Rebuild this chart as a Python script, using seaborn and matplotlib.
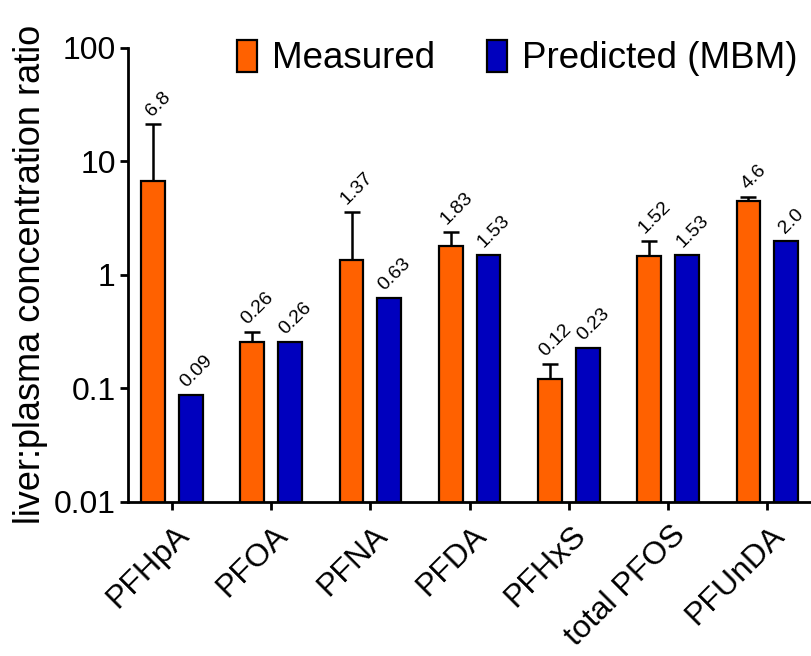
import numpy as np
import pandas as pd
import matplotlib
matplotlib.use("Agg")
import matplotlib.pyplot as plt
import matplotlib.transforms as mtransforms
import seaborn as sns

categories = ["PFHpA", "PFOA", "PFNA", "PFDA", "PFHxS", "total PFOS", "PFUnDA"]
measured = [6.7, 0.255, 1.36, 1.79, 0.121, 1.47, 4.45]
measured_err = [14.5, 0.06, 2.2, 0.6, 0.042, 0.52, 0.42]
predicted = [0.087, 0.255, 0.63, 1.50, 0.225, 1.50, 1.97]
measured_labels = ["6.8", "0.26", "1.37", "1.83", "0.12", "1.52", "4.6"]
predicted_labels = ["0.09", "0.26", "0.63", "1.53", "0.23", "1.53", "2.0"]
series = ["Measured", "Predicted (MBM)"]
colors = ["#FF6100", "#0000BE"]
ytick_vals = [0.01, 0.1, 1, 10, 100]
ytick_labels = ["0.01", "0.1", "1", "10", "100"]

df = pd.DataFrame({
    "compound": categories * 2,
    "series": [series[0]] * len(categories) + [series[1]] * len(categories),
    "value": measured + predicted,
})

sns.set_theme(style="ticks")
plt.rcParams["font.family"] = ["Liberation Sans", "DejaVu Sans"]
plt.rcParams["text.color"] = "black"
plt.rcParams["axes.labelcolor"] = "black"
plt.rcParams["xtick.color"] = "black"
plt.rcParams["ytick.color"] = "black"

fig = plt.figure(figsize=(8.12, 6.56), dpi=100)
ax = fig.add_axes([0.158, 0.235, 0.842, 0.692])

sns.barplot(data=df, x="compound", y="value", hue="series", order=categories,
            hue_order=series, palette=colors, saturation=1, width=0.76, gap=0.37,
            edgecolor="black", linewidth=1.6, errorbar=None, ax=ax, zorder=2)

ax.set_yscale("log")
ax.set_ylim(0.01, 100)
ax.set_xlim(-0.44, 6.45)
ax.set_yticks(ytick_vals)
ax.set_yticklabels(ytick_labels)
ax.yaxis.set_minor_locator(matplotlib.ticker.NullLocator())

bars = [p for p in ax.patches if p.get_height() > 0][: 2 * len(categories)]
meas_bars = bars[:len(categories)]
pred_bars = bars[len(categories):]

for b, e, lab in zip(meas_bars, measured_err, measured_labels):
    xc = b.get_x() + b.get_width() / 2
    top = b.get_height()
    ax.errorbar([xc], [top], yerr=[[0], [e]], fmt="none", ecolor="black",
                elinewidth=1.8, capsize=6, capthick=1.8, zorder=1)
    ax.annotate(lab, (xc, top + e), xytext=(4, 3), textcoords="offset points",
                rotation=45, ha="center", va="bottom", fontsize=14)

for b, lab in zip(pred_bars, predicted_labels):
    xc = b.get_x() + b.get_width() / 2
    top = b.get_height()
    ax.annotate(lab, (xc, top), xytext=(4, 3), textcoords="offset points",
                rotation=45, ha="center", va="bottom", fontsize=14)

ax.set_xlabel("")
ax.set_ylabel("liver:plasma concentration ratio", fontsize=26, labelpad=4)
ax.tick_params(axis="y", labelsize=23, width=2, length=6, pad=3)
ax.tick_params(axis="x", labelsize=23, width=2, length=6, pad=3)
offset = mtransforms.ScaledTranslation(2 / 100, -6 / 100, fig.dpi_scale_trans)
for lbl in ax.get_xticklabels():
    lbl.set_rotation(45)
    lbl.set_ha("right")
    lbl.set_rotation_mode("anchor")
    lbl.set_transform(lbl.get_transform() + offset)

for s in ["left", "bottom"]:
    ax.spines[s].set_linewidth(2)
    ax.spines[s].set_color("black")
sns.despine(ax=ax)

handles, labels = ax.get_legend_handles_labels()
ax.legend(handles, labels, loc="upper right", ncol=2, frameon=False,
          fontsize=26.5, handlelength=0.55, handleheight=0.95, handletextpad=0.4,
          columnspacing=1.4, bbox_to_anchor=(1.0, 1.05), borderaxespad=0)

fig.savefig("out.png", dpi=100)
